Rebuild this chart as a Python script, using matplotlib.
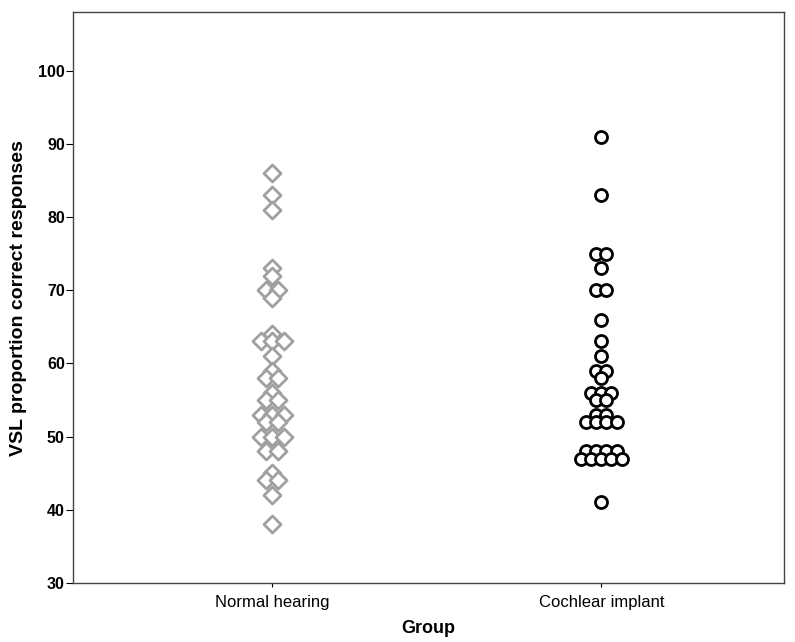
import numpy as np
import matplotlib.pyplot as plt

plt.rcParams['font.family'] = ['Liberation Sans', 'DejaVu Sans']

# Valores (proporción de respuestas correctas)
groups = ["Normal hearing", "Cochlear implant"]
nh_values = [86, 83, 81, 73, 72, 70, 70, 69, 64, 63, 63, 63, 61, 59, 58, 58,
             56, 55, 55, 53, 53, 53, 52, 52, 50, 50, 50, 48, 48, 45, 44, 44,
             42, 38]
ci_values = [91, 83, 75, 75, 73, 70, 70, 66, 63, 61, 59, 59, 58, 56, 56, 56,
             55, 55, 53, 53, 52, 52, 52, 52, 48, 48, 48, 48, 47, 47, 47, 47,
             47, 41]
y_ticks = [30, 40, 50, 60, 70, 80, 90, 100]


def stacked_x(values, center, step):
    # repartir puntos repetidos simétricamente alrededor del centro
    vals = np.array(values)
    xs = np.zeros(len(vals))
    for v in np.unique(vals):
        idx = np.where(vals == v)[0]
        n = len(idx)
        xs[idx] = center + (np.arange(n) - (n - 1) / 2) * step
    return xs


fig = plt.figure(figsize=(7.95, 6.42), dpi=100)
ax = fig.add_axes([0.092, 0.092, 0.894, 0.889])

ax.scatter(stacked_x(nh_values, 1, 0.035), nh_values, marker='D', s=75,
           facecolors='white', edgecolors='#a0a0a0', linewidths=2, zorder=3)
ax.scatter(stacked_x(ci_values, 2, 0.031), ci_values, marker='o', s=75,
           facecolors='white', edgecolors='black', linewidths=2, zorder=3)

ax.set_xlim(0.395, 2.555)
ax.set_ylim(30, 108)
ax.set_yticks(y_ticks)
ax.set_yticklabels([str(t) for t in y_ticks], fontsize=11.5, fontweight='bold')
ax.set_xticks([1, 2])
ax.set_xticklabels(groups, fontsize=12)
ax.tick_params(axis='y', length=5, width=0.8, pad=1)
ax.tick_params(axis='x', length=3, width=0.8, pad=6)

for sp in ax.spines.values():
    sp.set_color('#444444')
    sp.set_linewidth(1)

ax.set_ylabel("VSL proportion correct responses", fontsize=14,
              fontweight='bold', labelpad=8)
ax.set_xlabel("Group", fontsize=13, fontweight='bold', labelpad=7)

fig.savefig("out.png", dpi=100)
